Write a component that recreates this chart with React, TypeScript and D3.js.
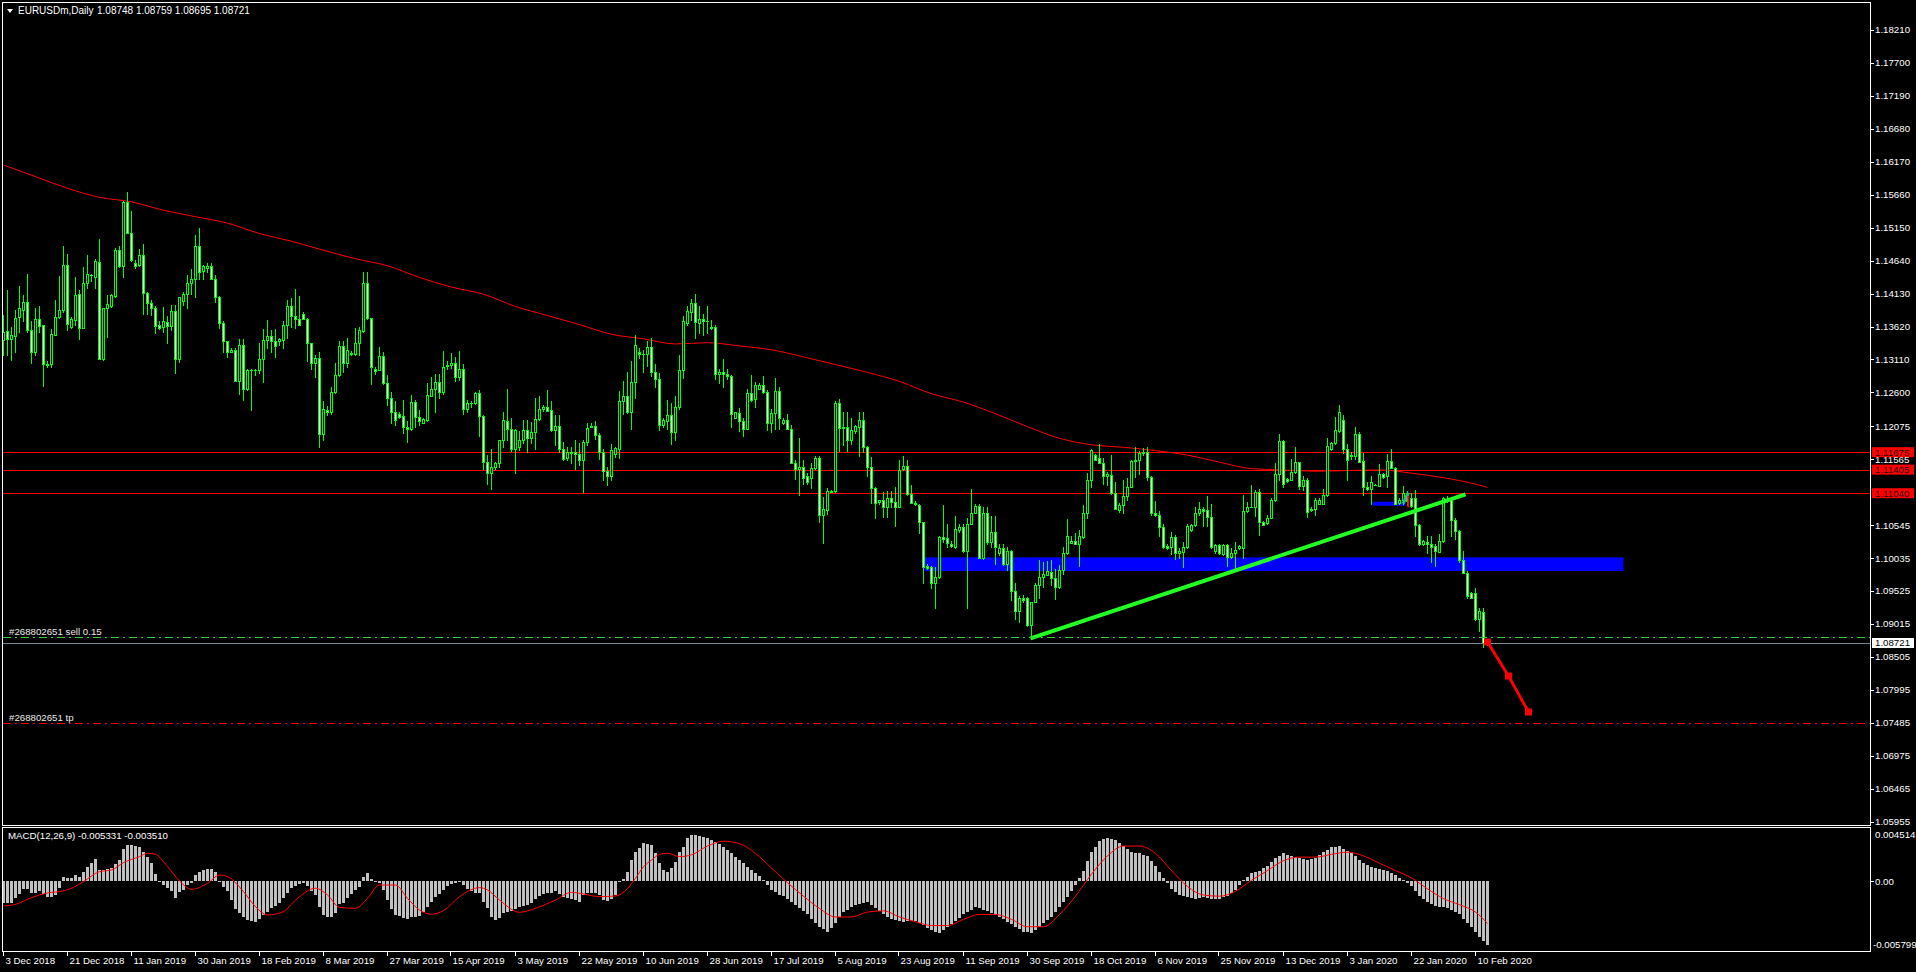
import React from "react";
import * as d3 from "d3";

// ---------- price data (daily bars, Sunday bars included) ----------
const OPEN = [1.1341,1.1355,1.1343,1.1348,1.1376,1.1388,1.1400,1.1356,1.1322,1.1373,
1.1364,1.1304,1.1304,1.1349,1.1376,1.1387,1.1457,1.1362,1.1372,1.1412,
1.1360,1.1430,1.1442,1.1439,1.1462,1.1311,1.1390,1.1393,1.1410,1.1480,
1.1455,1.1555,1.1507,1.1460,1.1458,1.1473,1.1414,1.1399,1.1391,1.1364,
1.1361,1.1369,1.1363,1.1386,1.1312,1.1402,1.1413,1.1430,1.1435,1.1487,
1.1448,1.1452,1.1456,1.1435,1.1408,1.1367,1.1339,1.1322,1.1325,1.1278,
1.1334,1.1265,1.1295,1.1294,1.1295,1.1311,1.1341,1.1347,1.1339,1.1340,
1.1341,1.1364,1.1394,1.1379,1.1373,1.1381,1.1374,1.1336,1.1306,1.1313,
1.1196,1.1233,1.1229,1.1260,1.1287,1.1332,1.1306,1.1321,1.1320,1.1336,
1.1355,1.1429,1.1375,1.1297,1.1294,1.1316,1.1274,1.1252,1.1230,1.1227,
1.1223,1.1206,1.1203,1.1245,1.1222,1.1213,1.1218,1.1255,1.1266,1.1276,
1.1260,1.1301,1.1303,1.1305,1.1284,1.1297,1.1235,1.1243,1.1243,1.1259,
1.1224,1.1153,1.1136,1.1144,1.1151,1.1186,1.1216,1.1203,1.1173,1.1175,
1.1186,1.1202,1.1190,1.1198,1.1219,1.1234,1.1237,1.1233,1.1202,1.1208,
1.1173,1.1158,1.1166,1.1168,1.1165,1.1156,1.1184,1.1207,1.1208,1.1194,
1.1168,1.1138,1.1130,1.1165,1.1173,1.1246,1.1254,1.1229,1.1276,1.1322,
1.1319,1.1319,1.1330,1.1292,1.1280,1.1209,1.1215,1.1225,1.1198,1.1237,
1.1295,1.1368,1.1385,1.1399,1.1368,1.1373,1.1371,1.1359,1.1361,1.1288,
1.1291,1.1288,1.1286,1.1221,1.1228,1.1215,1.1204,1.1259,1.1250,1.1266,
1.1271,1.1260,1.1212,1.1228,1.1262,1.1212,1.1218,1.1204,1.1151,1.1141,
1.1145,1.1131,1.1128,1.1143,1.1159,1.1071,1.1078,1.1106,1.1108,1.1244,
1.1205,1.1207,1.1186,1.1201,1.1207,1.1217,1.1176,1.1144,1.1112,1.1090,
1.1093,1.1082,1.1097,1.1091,1.1083,1.1141,1.1146,1.1103,1.1089,1.1086,
1.1059,1.0992,1.0990,1.0965,1.0974,1.1036,1.1034,1.1025,1.1021,1.1047,
1.1051,1.1014,1.1057,1.1074,1.1084,1.1003,1.1074,1.1029,1.1044,1.1011,
1.1019,1.0994,1.1014,1.0953,1.0922,1.0941,1.0942,1.0900,1.0935,1.0962,
1.0975,1.0978,1.0982,1.0972,1.0959,1.0985,1.1011,1.1027,1.1030,1.1026,
1.1036,1.1074,1.1125,1.1163,1.1158,1.1151,1.1130,1.1132,1.1104,1.1078,
1.1085,1.1100,1.1113,1.1154,1.1156,1.1166,1.1167,1.1129,1.1074,1.1070,
1.1052,1.1023,1.1021,1.1036,1.1012,1.1013,1.1021,1.1047,1.1054,1.1073,
1.1079,1.1078,1.1067,1.1014,1.1024,1.1010,1.1024,1.1005,1.1011,1.1019,
1.1019,1.1076,1.1083,1.1083,1.1106,1.1060,1.1058,1.1066,1.1093,1.1133,
1.1185,1.1126,1.1124,1.1137,1.1152,1.1115,1.1124,1.1078,1.1080,1.1088,
1.1088,1.1101,1.1173,1.1181,1.1201,1.1218,1.1172,1.1161,1.1161,1.1196,
1.1154,1.1114,1.1110,1.1117,1.1115,1.1134,1.1130,1.1154,1.1143,1.1089,
1.1094,1.1104,1.1097,1.1096,1.1055,1.1025,1.1028,1.1025,1.1023,1.1013,
1.1030,1.1094,1.1095,1.1063,1.1046,1.1000,1.0981,1.0950,1.0949,1.0909,
1.0920,1.08748];

const HIGH = [1.1380,1.1418,1.1362,1.1388,1.1425,1.1411,1.1443,1.1370,1.1390,1.1394,
1.1365,1.1309,1.1358,1.1403,1.1440,1.1487,1.1474,1.1376,1.1439,1.1418,
1.1454,1.1473,1.1444,1.1467,1.1497,1.1391,1.1411,1.1412,1.1484,1.1487,
1.1557,1.1570,1.1541,1.1465,1.1482,1.1490,1.1416,1.1403,1.1394,1.1370,
1.1392,1.1378,1.1395,1.1395,1.1408,1.1415,1.1442,1.1451,1.1503,1.1514,
1.1458,1.1460,1.1460,1.1442,1.1409,1.1370,1.1339,1.1328,1.1328,1.1342,
1.1343,1.1297,1.1297,1.1296,1.1336,1.1358,1.1372,1.1357,1.1358,1.1344,
1.1370,1.1403,1.1406,1.1420,1.1409,1.1385,1.1375,1.1336,1.1318,1.1322,
1.1247,1.1239,1.1268,1.1305,1.1339,1.1340,1.1344,1.1324,1.1359,1.1362,
1.1447,1.1446,1.1375,1.1300,1.1331,1.1323,1.1287,1.1261,1.1246,1.1229,
1.1249,1.1215,1.1256,1.1248,1.1233,1.1221,1.1275,1.1284,1.1289,1.1289,
1.1324,1.1309,1.1321,1.1315,1.1324,1.1304,1.1248,1.1246,1.1261,1.1263,
1.1225,1.1163,1.1173,1.1153,1.1187,1.1230,1.1265,1.1221,1.1204,1.1200,
1.1218,1.1218,1.1214,1.1252,1.1254,1.1240,1.1264,1.1246,1.1225,1.1225,
1.1184,1.1176,1.1176,1.1186,1.1181,1.1187,1.1212,1.1212,1.1215,1.1197,
1.1173,1.1144,1.1180,1.1176,1.1262,1.1278,1.1291,1.1309,1.1349,1.1329,
1.1326,1.1339,1.1345,1.1304,1.1290,1.1220,1.1248,1.1244,1.1255,1.1318,
1.1379,1.1394,1.1405,1.1412,1.1393,1.1382,1.1394,1.1372,1.1364,1.1297,
1.1312,1.1296,1.1287,1.1230,1.1236,1.1221,1.1265,1.1287,1.1276,1.1274,
1.1285,1.1264,1.1235,1.1282,1.1268,1.1220,1.1227,1.1210,1.1156,1.1189,
1.1156,1.1135,1.1150,1.1162,1.1162,1.1098,1.1112,1.1109,1.1247,1.1250,
1.1229,1.1229,1.1220,1.1210,1.1229,1.1229,1.1177,1.1160,1.1113,1.1094,
1.1106,1.1107,1.1108,1.1114,1.1155,1.1162,1.1155,1.1117,1.1092,1.1088,
1.1060,1.0995,1.0991,1.0990,1.1038,1.1086,1.1057,1.1030,1.1069,1.1056,
1.1056,1.1065,1.1111,1.1087,1.1087,1.1083,1.1082,1.1068,1.1068,1.1026,
1.1026,1.1021,1.1016,1.0965,1.0945,1.0946,1.0944,1.0936,1.0965,1.1001,
1.0998,1.0999,1.1001,1.0986,1.0993,1.1021,1.1064,1.1038,1.1042,1.1047,
1.1086,1.1136,1.1172,1.1164,1.1180,1.1158,1.1137,1.1163,1.1122,1.1089,
1.1124,1.1128,1.1156,1.1175,1.1169,1.1174,1.1175,1.1131,1.1092,1.1076,
1.1057,1.1025,1.1044,1.1039,1.1019,1.1028,1.1057,1.1057,1.1083,1.1091,
1.1083,1.1099,1.1087,1.1025,1.1026,1.1026,1.1026,1.1019,1.1028,1.1024,
1.1101,1.1091,1.1117,1.1109,1.1111,1.1061,1.1070,1.1096,1.1150,1.1196,
1.1187,1.1127,1.1157,1.1176,1.1153,1.1130,1.1127,1.1082,1.1096,1.1096,
1.1111,1.1189,1.1184,1.1222,1.1240,1.1225,1.1180,1.1168,1.1207,1.1198,
1.1166,1.1122,1.1130,1.1119,1.1149,1.1136,1.1165,1.1173,1.1144,1.1096,
1.1115,1.1108,1.1104,1.1109,1.1057,1.1031,1.1038,1.1037,1.1025,1.1041,
1.1098,1.1100,1.1097,1.1066,1.1047,1.1014,1.0983,1.0951,1.0958,1.0926,
1.0926,1.08759];

const LOW = [1.1318,1.1318,1.1310,1.1323,1.1354,1.1370,1.1354,1.1306,1.1318,1.1354,
1.1270,1.1300,1.1300,1.1349,1.1375,1.1385,1.1356,1.1359,1.1365,1.1343,
1.1359,1.1421,1.1432,1.1422,1.1311,1.1310,1.1346,1.1392,1.1407,1.1454,
1.1439,1.1506,1.1464,1.1452,1.1455,1.1382,1.1381,1.1380,1.1352,1.1358,
1.1354,1.1336,1.1357,1.1290,1.1307,1.1396,1.1390,1.1413,1.1408,1.1436,
1.1436,1.1446,1.1435,1.1400,1.1359,1.1323,1.1315,1.1322,1.1278,1.1257,
1.1248,1.1264,1.1233,1.1287,1.1290,1.1276,1.1328,1.1323,1.1315,1.1333,
1.1328,1.1344,1.1362,1.1360,1.1364,1.1373,1.1309,1.1297,1.1284,1.1176,
1.1187,1.1225,1.1227,1.1259,1.1286,1.1292,1.1300,1.1318,1.1318,1.1318,
1.1354,1.1374,1.1273,1.1288,1.1294,1.1273,1.1241,1.1213,1.1210,1.1220,
1.1197,1.1184,1.1202,1.1206,1.1210,1.1212,1.1215,1.1254,1.1229,1.1251,
1.1257,1.1296,1.1298,1.1278,1.1279,1.1226,1.1230,1.1238,1.1242,1.1192,
1.1142,1.1119,1.1111,1.1142,1.1145,1.1176,1.1186,1.1170,1.1136,1.1171,
1.1181,1.1167,1.1182,1.1172,1.1218,1.1232,1.1231,1.1200,1.1178,1.1167,
1.1155,1.1156,1.1151,1.1141,1.1148,1.1106,1.1178,1.1207,1.1188,1.1157,
1.1124,1.1116,1.1125,1.1160,1.1159,1.1227,1.1228,1.1203,1.1252,1.1314,
1.1291,1.1301,1.1285,1.1269,1.1202,1.1207,1.1203,1.1180,1.1186,1.1235,
1.1283,1.1365,1.1372,1.1345,1.1352,1.1349,1.1352,1.1358,1.1280,1.1275,
1.1269,1.1281,1.1207,1.1220,1.1200,1.1193,1.1203,1.1246,1.1238,1.1265,
1.1259,1.1202,1.1199,1.1204,1.1203,1.1211,1.1203,1.1150,1.1126,1.1101,
1.1119,1.1119,1.1112,1.1141,1.1060,1.1027,1.1072,1.1106,1.1106,1.1169,
1.1179,1.1169,1.1180,1.1197,1.1162,1.1167,1.1131,1.1089,1.1066,1.1088,
1.1067,1.1067,1.1082,1.1053,1.1082,1.1140,1.1101,1.1089,1.1086,1.1043,
1.0965,1.0987,1.0958,1.0927,1.0972,1.1029,1.1021,1.1021,1.1019,1.1044,
1.1013,1.0927,1.1056,1.1073,1.1003,1.1002,1.1026,1.1021,1.0995,1.1009,
1.0993,1.0985,1.0939,1.0910,1.0905,1.0936,1.0898,1.0879,1.0935,1.0941,
1.0959,1.0978,1.0962,1.0940,1.0958,1.0979,1.1010,1.1027,1.1025,1.0991,
1.1034,1.1065,1.1114,1.1155,1.1150,1.1119,1.1117,1.1103,1.1079,1.1075,
1.1074,1.1094,1.1113,1.1129,1.1133,1.1163,1.1124,1.1070,1.1069,1.1037,
1.1019,1.1017,1.1010,1.1002,1.1003,1.0989,1.1019,1.1046,1.1053,1.1070,
1.1053,1.1053,1.1019,1.1012,1.1010,1.1008,1.0992,1.1003,1.0988,1.1017,
1.1003,1.1075,1.1082,1.1068,1.1040,1.1054,1.1057,1.1065,1.1092,1.1124,
1.1113,1.1122,1.1124,1.1136,1.1111,1.1109,1.1067,1.1077,1.1070,1.1087,
1.1088,1.1100,1.1171,1.1180,1.1199,1.1166,1.1125,1.1157,1.1157,1.1152,
1.1101,1.1109,1.1088,1.1116,1.1115,1.1127,1.1113,1.1143,1.1087,1.1088,
1.1088,1.1085,1.1083,1.1037,1.1024,1.1024,1.1011,1.0998,1.0992,1.1013,
1.1029,1.1091,1.1037,1.1033,1.0998,1.0980,1.0942,1.0941,1.0908,1.0891,
1.0866,1.08695];

const CLOSE = [1.1354,1.1343,1.1349,1.1375,1.1390,1.1400,1.1356,1.1322,1.1374,1.1363,
1.1304,1.1303,1.1350,1.1376,1.1387,1.1457,1.1366,1.1374,1.1411,1.1360,
1.1430,1.1443,1.1441,1.1463,1.1311,1.1390,1.1397,1.1411,1.1480,1.1455,
1.1555,1.1507,1.1465,1.1455,1.1473,1.1414,1.1399,1.1391,1.1363,1.1360,
1.1370,1.1363,1.1386,1.1312,1.1407,1.1413,1.1430,1.1436,1.1487,1.1447,
1.1455,1.1456,1.1435,1.1408,1.1367,1.1339,1.1322,1.1325,1.1278,1.1334,
1.1265,1.1295,1.1294,1.1295,1.1311,1.1341,1.1347,1.1339,1.1332,1.1342,
1.1364,1.1394,1.1379,1.1373,1.1365,1.1374,1.1336,1.1306,1.1314,1.1196,
1.1234,1.1229,1.1260,1.1287,1.1332,1.1306,1.1325,1.1320,1.1336,1.1356,
1.1429,1.1375,1.1300,1.1293,1.1316,1.1274,1.1252,1.1230,1.1218,1.1222,
1.1206,1.1203,1.1245,1.1222,1.1216,1.1219,1.1256,1.1266,1.1276,1.1260,
1.1299,1.1303,1.1305,1.1284,1.1297,1.1235,1.1243,1.1243,1.1259,1.1224,
1.1153,1.1136,1.1145,1.1151,1.1186,1.1217,1.1203,1.1173,1.1202,1.1186,
1.1202,1.1190,1.1199,1.1219,1.1234,1.1238,1.1232,1.1202,1.1208,1.1173,
1.1157,1.1167,1.1168,1.1164,1.1156,1.1184,1.1205,1.1208,1.1194,1.1168,
1.1138,1.1130,1.1171,1.1174,1.1246,1.1254,1.1229,1.1276,1.1333,1.1319,
1.1320,1.1330,1.1292,1.1280,1.1209,1.1217,1.1225,1.1198,1.1237,1.1295,
1.1370,1.1386,1.1399,1.1369,1.1373,1.1371,1.1370,1.1361,1.1288,1.1291,
1.1288,1.1286,1.1226,1.1229,1.1215,1.1204,1.1259,1.1249,1.1272,1.1272,
1.1260,1.1212,1.1228,1.1262,1.1221,1.1218,1.1204,1.1151,1.1141,1.1145,
1.1128,1.1122,1.1143,1.1159,1.1070,1.1079,1.1107,1.1108,1.1244,1.1205,
1.1207,1.1186,1.1202,1.1208,1.1217,1.1176,1.1144,1.1112,1.1089,1.1093,
1.1082,1.1097,1.1091,1.1083,1.1140,1.1146,1.1103,1.1089,1.1087,1.1059,
1.0990,1.0988,1.0965,1.0974,1.1036,1.1033,1.1027,1.1022,1.1048,1.1051,
1.1014,1.1057,1.1074,1.1084,1.1003,1.1074,1.1029,1.1044,1.1020,1.1019,
1.0994,1.1014,1.0953,1.0922,1.0942,1.0939,1.0900,1.0935,1.0962,1.0975,
1.0979,1.0984,1.0972,1.0959,1.0985,1.1011,1.1038,1.1030,1.1026,1.1037,
1.1074,1.1125,1.1171,1.1156,1.1151,1.1130,1.1133,1.1104,1.1080,1.1086,
1.1100,1.1113,1.1154,1.1156,1.1166,1.1168,1.1129,1.1074,1.1071,1.1052,
1.1020,1.1019,1.1036,1.1012,1.1014,1.1021,1.1053,1.1055,1.1073,1.1079,
1.1077,1.1067,1.1020,1.1024,1.1011,1.1024,1.1005,1.1011,1.1016,1.1022,
1.1076,1.1083,1.1083,1.1106,1.1059,1.1055,1.1066,1.1093,1.1133,1.1185,
1.1119,1.1123,1.1137,1.1152,1.1115,1.1124,1.1075,1.1080,1.1093,1.1093,
1.1101,1.1177,1.1181,1.1202,1.1229,1.1172,1.1156,1.1163,1.1196,1.1153,
1.1113,1.1110,1.1121,1.1117,1.1134,1.1129,1.1154,1.1143,1.1088,1.1094,
1.1104,1.1092,1.1084,1.1055,1.1025,1.1030,1.1025,1.1021,1.1015,1.1030,
1.1096,1.1095,1.1063,1.1046,1.1000,1.0981,1.0945,1.0942,1.0909,1.0921,
1.0872,1.08721];

// moving average read at every 8th bar
const MA_IDX = [0,8,16,24,32,40,48,56,64,72,80,88,96,104,112,120,128,136,144,152,160,168,176,184,192,200,208,216,224,232,240,248,256,264,272,280,288,296,304,312,320,328,336,344,352,360,368,371];
const MA_VAL = [1.1612,1.1594,1.1576,1.1562,1.1555,1.1542,1.1532,1.1522,1.1506,1.1494,1.1480,1.1467,1.1456,1.1438,1.1423,1.1412,1.1393,1.1379,1.1365,1.1350,1.1343,1.1335,1.1337,1.1332,1.1326,1.1315,1.1303,1.1291,1.1277,1.1258,1.1245,1.1227,1.1207,1.1189,1.1179,1.1175,1.1170,1.1163,1.1152,1.1142,1.1140,1.1138,1.1139,1.1140,1.1135,1.1128,1.1118,1.1113];

// MACD histogram (units of 1e-4), one per bar
const MACD_HIST_E4 = [-18.3,-18.3,-17.8,-14.2,-10.6,-6.7,-6.7,-9.5,-9.5,-8.1,
-10.8,-12.8,-12.8,-11.4,-5.8,3.3,2.5,2.5,5.2,3.3,
8.0,12.2,15.5,18.5,9.4,9.4,10,10.8,14.4,17.7,
26.6,30.2,30.2,29.6,28.2,24.1,19.9,14.9,5.8,-0.3,
-3.1,-5.8,-8.1,-14.2,-8.6,-7.2,-3.1,-1.7,5.2,8.0,
9.4,10,10,7.5,0.2,-4.5,-8.1,-15.6,-23.3,-26.6,
-29.4,-32.2,-33,-33.5,-31.6,-28,-25.2,-22.5,-20.5,-17.8,
-14.2,-9.5,-5.8,-3.9,-2.2,-1.7,-3.9,-7.8,-11.4,-21.1,
-28,-29.9,-29.9,-26.1,-18.9,-17.8,-14.2,-10.6,-7.2,-4.5,
3.3,6.6,1.6,-0.3,-1.7,-7.2,-15.6,-23.3,-28,-28.9,
-30.8,-31.6,-29.9,-29.9,-28.9,-25.2,-21.1,-16.9,-13.3,-10.6,
-7.2,-3.6,-2.2,-1.1,-0.3,-3.1,-6.7,-8.1,-10,-10,
-16.9,-22.5,-29.4,-32.2,-30.8,-26.6,-25.2,-24.4,-23.3,-21.7,
-20.5,-19.7,-17.8,-15,-12.2,-10.6,-9.5,-10,-7.8,-10.6,
-13.3,-14.2,-15,-15.6,-16.9,-11.4,-10,-9.5,-9.5,-11.4,
-15.6,-16.1,-15,-11.4,-0.9,1.6,8.0,17.7,24.6,27.4,
31.6,31,30.2,23.3,15.5,9.4,8.0,10.8,16.4,24.6,
28.8,35.8,38.5,38.4,37.5,37,36.4,34.5,33,31.3,
28.5,26,23.2,20.5,17.5,15,12,9.5,6.9,4,
0.8,-3,-7.3,-9,-11,-12.4,-14.5,-17,-19.5,-22,
-25,-27.6,-31,-34.5,-37.8,-40,-41.9,-38.5,-34.7,-30,
-25.6,-23.5,-21.5,-19.5,-18.5,-18,-17.5,-20,-22.5,-24.6,
-27,-29.5,-31.7,-32.5,-33.2,-33.7,-33.2,-33,-32.7,-34.5,
-36.5,-38.8,-40.5,-42,-42.9,-40.5,-38,-35.8,-33,-30.3,
-27.6,-25.5,-23.5,-21.5,-22.5,-23.5,-24.6,-26.3,-28,-29.7,
-31.7,-33.8,-35.8,-37.8,-39.8,-41.9,-42.5,-42.9,-40.5,-37.8,
-35,-32.5,-29.7,-25.6,-21.5,-17.5,-12.8,-8,-3.3,2.8,
8.9,16.5,24.2,28.8,33.3,35,36.4,35.3,34.3,31.8,
29.3,26.8,24.2,23.7,23.2,22.2,21.1,17,13,8,
2.8,-1.8,-6.3,-8.8,-11.4,-12.4,-13.4,-13.9,-14.4,-13.9,
-13.4,-13.9,-14.4,-14.4,-14.4,-13.4,-12.4,-9.8,-7.3,-3.3,
0.8,3.8,6.9,7.9,8.9,11,13,16,19.1,21.1,
23.2,22.2,21.1,20.1,19.1,18.6,18.1,18.6,19.1,21.6,
24.2,26.2,28.3,28.8,29.3,27.2,25.2,23.2,21.1,18,
15,13.5,12,11,10,9.5,8.9,6.9,4.9,2.8,
0.8,-1.8,-4.3,-8.4,-12.4,-15,-17.5,-19,-20.5,-21,
-21.5,-22.5,-23.6,-25.6,-27.6,-31.2,-34.7,-38.3,-41.9,-46,
-50,-53.3];
// MACD signal line read at sample bars (units of 1e-4)
const SIG_IDX = [0,3,6,9,12,14,17,20,24,27,30,34,36,38,41,44,47,51,54,56,60,63,66,70,73,78,81,84,88,91,94,98,101,104,107,110,114,119,121,124,129,133,138,142,145,149,153,156,158,160,162,164,166,169,172,176,180,184,188,192,196,200,204,208,212,216,220,224,228,232,236,240,244,248,252,256,260,264,268,272,276,280,284,288,292,296,300,304,308,312,316,320,324,328,332,336,340,344,348,352,356,360,364,368,371];
const SIG_E4 = [-20.5,-19.2,-15,-11.4,-9.2,-8.6,-5.8,-0.3,8.0,9.4,15.5,20.5,23.3,22.4,12.2,0.2,-6.7,-1.7,5.2,3.9,-8.6,-21.1,-28,-25.2,-15.6,-5.8,-11.4,-21.7,-22.5,-14.2,-3.1,-3.1,-14.2,-23.9,-27.4,-24.4,-12.8,-5.3,-7.2,-15.6,-25.8,-22.5,-15.6,-9.2,-10.6,-12.8,-12.2,-6,2.5,12,17.7,22.4,23.3,20.5,22,29.3,33.3,31.3,23.2,11,-1.2,-12.4,-22.6,-29.7,-29.7,-25.6,-24.6,-29.7,-33.7,-36.8,-36.8,-31.7,-27.6,-27.6,-31.7,-37.8,-37.8,-27.6,-12.4,5.9,21.1,29.3,29.3,23.2,8.9,-4.3,-11.4,-12.4,-8.3,0.8,8.9,17.1,20.1,20.1,22.4,24.2,21.1,15,8.9,2.8,-6.3,-14.4,-19.5,-25.6,-35.1];

// axis labels
const PRICE_TICKS = ["1.18210","1.17700","1.17190","1.16680","1.16170","1.15660","1.15150","1.14640","1.14130","1.13620","1.13110","1.12600","1.12075","1.11565","1.10545","1.10035","1.09525","1.09015","1.08505","1.07995","1.07485","1.06975","1.06465","1.05955"];
const DATE_TICKS = ["3 Dec 2018","21 Dec 2018","11 Jan 2019","30 Jan 2019","18 Feb 2019","8 Mar 2019","27 Mar 2019","15 Apr 2019","3 May 2019","22 May 2019","10 Jun 2019","28 Jun 2019","17 Jul 2019","5 Aug 2019","23 Aug 2019","11 Sep 2019","30 Sep 2019","18 Oct 2019","6 Nov 2019","25 Nov 2019","13 Dec 2019","3 Jan 2020","22 Jan 2020","10 Feb 2020"];
const MACD_TICKS = [0.004514, 0, -0.005799];
const MACD_TICK_LABELS = ["0.004514", "0.00", "-0.005799"];

const PRICE_MIN = 1.05955, PRICE_MAX = 1.18210;
const MACD_MIN = -0.005799, MACD_MAX = 0.004514;
const H_LINES = [1.11675, 1.11405, 1.11040];
const BID = 1.08721;
const SELL_PRICE = 1.08814;
const TP_PRICE = 1.07485;
const BLUE_ZONE = { from: 230.25, to: 405, top: 1.10047, bottom: 1.09835 };
const BLUE_SMALL = { from: 342.25, to: 350.5, top: 1.10908, bottom: 1.10846 };
const TREND = [{ i: 256.75, p: 1.08794 }, { i: 365.5, p: 1.11023 }];
const RED_PATH = [{ i: 371, p: 1.08736 }, { i: 376.25, p: 1.0821 }, { i: 381.25, p: 1.07653 }];

const MONTHS = ["Jan","Feb","Mar","Apr","May","Jun","Jul","Aug","Sep","Oct","Nov","Dec"];
function buildDates(n: number): Date[] {
  const out: Date[] = [];
  const d = new Date(Date.UTC(2018, 11, 3));
  while (out.length < n) {
    const wd = d.getUTCDay();
    const m = d.getUTCMonth(), day = d.getUTCDate();
    const holiday = (m === 11 && day === 25) || (m === 0 && day === 1);
    if (wd !== 6 && !holiday) out.push(new Date(d.getTime()));
    d.setUTCDate(d.getUTCDate() + 1);
  }
  return out;
}
const fmtDate = (d: Date) => `${d.getUTCDate()} ${MONTHS[d.getUTCMonth()]} ${d.getUTCFullYear()}`;

const LIME = "#00ff00";
const FONT = "'Liberation Sans', Arial, sans-serif";
const FS = 9.7;

export default function App() {
  const N = CLOSE.length;
  const dates = buildDates(N);
  const x = d3.scaleLinear().domain([0, N - 1]).range([3.5, 3.5 + 4 * (N - 1)]);
  const y = d3.scaleLinear().domain([PRICE_MIN, PRICE_MAX]).range([821.7, 30]);
  const ym = d3.scaleLinear().domain([MACD_MIN, MACD_MAX]).range([951, 827]);

  const maPath = d3.line<number>().x((_, k) => x(MA_IDX[k])).y((v) => y(v)).curve(d3.curveMonotoneX)(MA_VAL) || "";
  const sigPath = d3.line<number>().x((_, k) => x(SIG_IDX[k])).y((v) => ym(v * 1e-4)).curve(d3.curveMonotoneX)(SIG_E4) || "";
  const redPath = d3.line<{ i: number; p: number }>().x((d) => x(d.i)).y((d) => y(d.p))(RED_PATH) || "";

  const R = 1870.5; // right border
  const py = (p: number) => Math.round(y(p)) + 0.5;

  return (
    <div style={{ position: "fixed", left: 0, top: 0, width: 1916, height: 972, background: "#000" }}>
      <svg width={1916} height={972} style={{ display: "block" }} fontFamily={FONT} fontSize={FS}>
        <rect x={0} y={0} width={1916} height={972} fill="#000" />

        {/* blue zones */}
        <rect x={x(BLUE_ZONE.from)} y={y(BLUE_ZONE.top)} width={x(BLUE_ZONE.to) - x(BLUE_ZONE.from)} height={y(BLUE_ZONE.bottom) - y(BLUE_ZONE.top)} fill="#0000ff" />
        <rect x={x(BLUE_SMALL.from)} y={y(BLUE_SMALL.top)} width={x(BLUE_SMALL.to) - x(BLUE_SMALL.from)} height={Math.max(3, y(BLUE_SMALL.bottom) - y(BLUE_SMALL.top))} fill="#0000ff" />

        {/* horizontal red levels */}
        {H_LINES.map((p) => (
          <line key={p} x1={3} x2={R} y1={py(p)} y2={py(p)} stroke="#ff0000" strokeWidth={1} shapeRendering="crispEdges" />
        ))}

        {/* MA */}
        <path d={maPath} fill="none" stroke="#ff0000" strokeWidth={1} />

        {/* candles */}
        <g shapeRendering="crispEdges">
          {CLOSE.map((c, i) => {
            const o = OPEN[i], h = HIGH[i], l = LOW[i];
            const cx = x(i);
            const yTop = Math.round(y(Math.max(o, c)));
            const yBot = Math.round(y(Math.min(o, c)));
            const bear = c < o;
            return (
              <g key={i}>
                <line x1={cx} x2={cx} y1={Math.round(y(h))} y2={Math.round(y(l)) + 1} stroke={LIME} strokeWidth={1} />
                {yBot - yTop < 1 ? (
                  <line x1={cx - 1.5} x2={cx + 1.5} y1={yTop + 0.5} y2={yTop + 0.5} stroke={LIME} strokeWidth={1} />
                ) : (
                  <rect x={cx - 1} y={yTop + 0.5} width={2} height={yBot - yTop} fill={bear ? "#ffffff" : "#000000"} stroke={LIME} strokeWidth={1} />
                )}
              </g>
            );
          })}
        </g>

        {/* trend line */}
        <line x1={x(TREND[0].i)} y1={y(TREND[0].p)} x2={x(TREND[1].i)} y2={y(TREND[1].p)} stroke="#22ff22" strokeWidth={4} />

        {/* trade marks */}
        <line x1={x(349.9)} y1={y(1.1088)} x2={x(351.2)} y2={y(1.1105)} stroke="#20c090" strokeWidth={3} />
        <line x1={x(351.2)} y1={y(1.1100)} x2={x(351.2)} y2={y(1.1082)} stroke="#ff0000" strokeWidth={2} />

        {/* order lines */}
        <line x1={3} x2={R} y1={py(SELL_PRICE)} y2={py(SELL_PRICE)} stroke="#32cd32" strokeDasharray="8,4,2,4" shapeRendering="crispEdges" />
        <line x1={3} x2={R} y1={py(TP_PRICE)} y2={py(TP_PRICE)} stroke="#ff0000" strokeDasharray="8,4,2,4" shapeRendering="crispEdges" />
        <line x1={3} x2={R} y1={py(BID)} y2={py(BID)} stroke="#778899" shapeRendering="crispEdges" />
        <text x={9} y={py(SELL_PRICE) - 2.5} fill="#e8e8e8">#268802651 sell 0.15</text>
        <text x={9} y={py(TP_PRICE) - 2.5} fill="#e8e8e8">#268802651 tp</text>

        {/* red projection path */}
        <path d={redPath} fill="none" stroke="#ff0000" strokeWidth={3} />
        {RED_PATH.map((d, k) => (
          <rect key={k} x={x(d.i) - 3.5} y={y(d.p) - 3.5} width={7} height={7} fill="#ff0000" />
        ))}

        {/* header */}
        <path d="M7,9 L13,9 L10,13 Z" fill="#ffffff" />
        <text x={18} y={14} fill="#ffffff" fontSize={10}>EURUSDm,Daily</text>
        <text x={97} y={14} fill="#ffffff" fontSize={10}>1.08748 1.08759 1.08695 1.08721</text>

        {/* MACD panel */}
        <g shapeRendering="crispEdges">
          {MACD_HIST_E4.map((v, i) => {
            const y0 = ym(0), y1 = ym(v * 1e-4);
            return <rect key={i} x={x(i) - 1.5} y={Math.min(y0, y1)} width={3} height={Math.max(1, Math.abs(y1 - y0))} fill="#c0c0c0" />;
          })}
        </g>
        <path d={sigPath} fill="none" stroke="#ff0000" strokeWidth={1} />
        <text x={8} y={839} fill="#ffffff">MACD(12,26,9) -0.005331 -0.003510</text>

        {/* frames */}
        <g fill="none" stroke="#ffffff" strokeWidth={1} shapeRendering="crispEdges">
          <rect x={2.5} y={2.5} width={R - 2.5} height={822.5} />
          <rect x={2.5} y={827.5} width={R - 2.5} height={123.5} />
        </g>

        {/* price axis */}
        {PRICE_TICKS.map((t) => {
          const yy = y(parseFloat(t));
          return (
            <g key={t}>
              <line x1={R} x2={R + 3} y1={Math.round(yy) + 0.5} y2={Math.round(yy) + 0.5} stroke="#fff" shapeRendering="crispEdges" />
              <text x={1875} y={yy} dy="0.35em" fill="#ffffff">{t}</text>
            </g>
          );
        })}
        {H_LINES.map((p) => (
          <g key={p}>
            <rect x={1872} y={y(p) - 5} width={42} height={10} fill="#ff0000" />
            <text x={1875} y={y(p)} dy="0.35em" fill="#300000">{p.toFixed(5)}</text>
          </g>
        ))}
        <rect x={1872} y={y(BID) - 5} width={42} height={10} fill="#ffffff" />
        <text x={1875} y={y(BID)} dy="0.35em" fill="#000000">{BID.toFixed(5)}</text>

        {/* macd axis */}
        {MACD_TICKS.map((v, k) => {
          const yy = k === 0 ? 835 : k === 2 ? 945 : ym(v);
          return (
            <g key={k}>
              {k === 1 && <line x1={R} x2={R + 3} y1={Math.round(yy) + 0.5} y2={Math.round(yy) + 0.5} stroke="#fff" shapeRendering="crispEdges" />}
              <text x={k === 2 ? 1873 : 1875} y={yy} dy="0.35em" fill="#ffffff">{MACD_TICK_LABELS[k]}</text>
            </g>
          );
        })}

        {/* date axis */}
        {DATE_TICKS.map((t) => {
          const idx = dates.findIndex((d) => fmtDate(d) === t);
          if (idx < 0) return null;
          const xx = Math.round(x(idx)) - 0.5;
          return (
            <g key={t}>
              <line x1={xx} x2={xx} y1={951} y2={956} stroke="#fff" shapeRendering="crispEdges" />
              <text x={xx + 2} y={964} fill="#ffffff">{t}</text>
            </g>
          );
        })}
      </svg>
    </div>
  );
}
